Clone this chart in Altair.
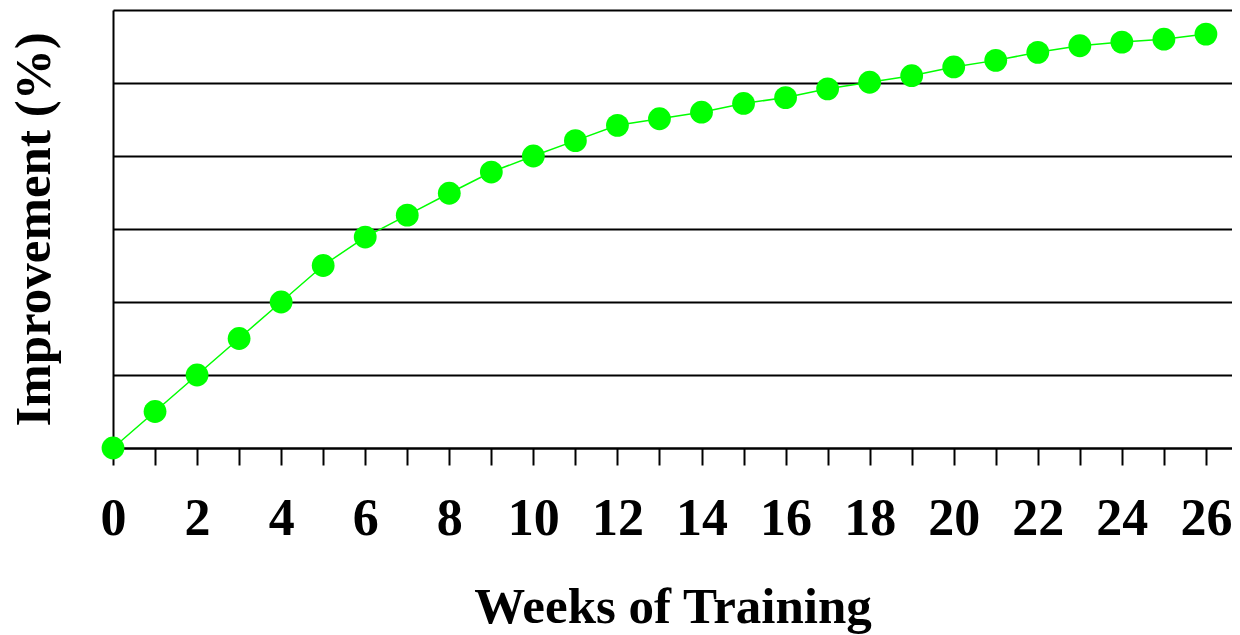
import altair as alt
import pandas as pd

weeks = list(range(27))
improvement = [0, 0.5, 1.0, 1.5, 2.0, 2.5, 2.89, 3.19, 3.49, 3.78, 4.0, 4.21, 4.42,
               4.51, 4.6, 4.72, 4.8, 4.92, 5.01, 5.1, 5.22, 5.31, 5.42, 5.51, 5.56,
               5.6, 5.67]
grid_values = [0, 1, 2, 3, 4, 5, 6]

df = pd.DataFrame({"week": weeks, "imp": improvement})

FONT = "Liberation Serif"
GREEN = "#00ff00"

x = alt.X("week:Q",
          scale=alt.Scale(domain=[0, 26.62], nice=False, zero=False),
          axis=alt.Axis(title="Weeks of Training", values=weeks,
                        labelExpr="datum.value % 2 == 0 ? datum.label : ''",
                        grid=False, domainColor="black", domainWidth=2,
                        tickColor="black", tickWidth=2, tickSize=17,
                        labelFont=FONT, labelFontSize=52, labelFontWeight="bold",
                        labelColor="black", labelPadding=28, labelFlush=False,
                        labelOverlap=False,
                        titleFont=FONT, titleFontSize=51, titleFontWeight="bold",
                        titleColor="black", titlePadding=38))
y = alt.Y("imp:Q",
          scale=alt.Scale(domain=[0, 6], nice=False),
          axis=alt.Axis(title="Improvement (%)", values=grid_values, labels=False,
                        ticks=False, grid=True, gridColor="black", gridWidth=2,
                        gridOpacity=1, domainColor="black", domainWidth=2,
                        titleFont=FONT, titleFontSize=51, titleFontWeight="bold",
                        titleColor="black", titlePadding=53))

line = alt.Chart(df).mark_line(color=GREEN, strokeWidth=1.5).encode(x=x, y=y)
pts = alt.Chart(df).mark_circle(color=GREEN, opacity=1, size=520).encode(x=x, y=y)

chart = (line + pts).properties(
    width=1119, height=438,
    autosize=alt.AutoSizeParams(type="none"),
    padding={"left": 105, "top": 2, "right": 0, "bottom": 186},
).configure_view(stroke=None).configure(background="white")

chart.save("out.html", embed_options={"renderer": "svg", "actions": False})
